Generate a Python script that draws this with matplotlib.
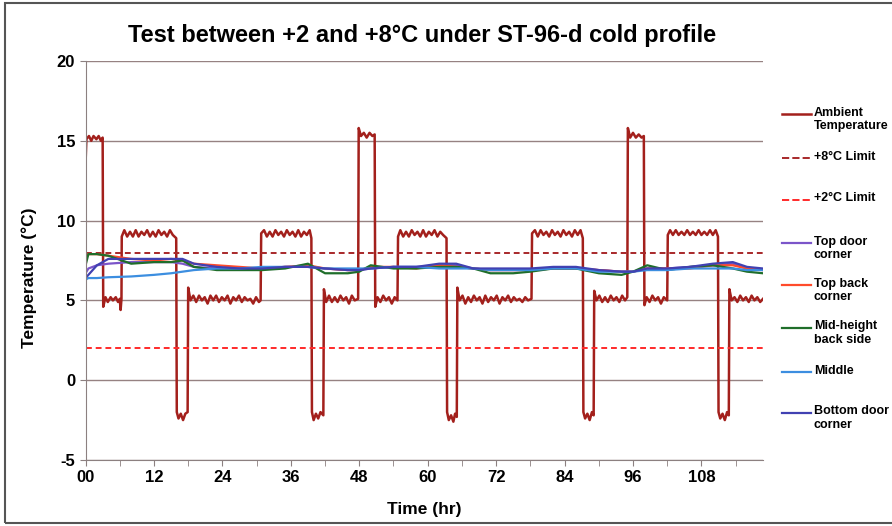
import numpy as np
import matplotlib.pyplot as plt
from matplotlib.lines import Line2D
from matplotlib.patches import Rectangle

plt.rcParams['font.family'] = ['Liberation Sans', 'DejaVu Sans']
plt.rcParams['font.weight'] = 'bold'
plt.rcParams['axes.unicode_minus'] = False

# ambient chamber temperature (hr, degC)
ambient = [
    (0.0, 13.6), (0.15, 15.1), (0.6, 15.3), (1.0, 15.0), (1.4, 15.3), (1.9, 15.1), (2.3, 15.3), (2.7, 15.0), (3.0, 15.2),
    (3.1, 4.6), (3.5, 5.2), (3.9, 4.9), (4.4, 5.2), (4.8, 5.0), (5.3, 5.2), (5.7, 4.9), (6.0, 5.1), (6.15, 4.4), (6.3, 5.1),
    (6.35, 9.0), (6.8, 9.4), (7.3, 9.0), (7.8, 9.3), (8.3, 9.0), (8.8, 9.4), (9.3, 9.0), (9.8, 9.3), (10.3, 9.1), (10.8, 9.4),
    (11.3, 9.0), (11.8, 9.3), (12.3, 9.0), (12.8, 9.4), (13.3, 9.1), (13.8, 9.3), (14.3, 9.0), (14.8, 9.4), (15.3, 9.1), (15.9, 8.9),
    (16.0, -2.0), (16.3, -2.4), (16.7, -2.1), (17.1, -2.5), (17.5, -2.1), (17.9, -2.0),
    (18.0, 5.8), (18.4, 5.0), (18.9, 5.3), (19.4, 4.9), (19.9, 5.3), (20.4, 5.0), (20.9, 5.2), (21.4, 4.8), (21.9, 5.3), (22.4, 5.0),
    (22.9, 5.3), (23.4, 4.9), (23.9, 5.2), (24.4, 5.0), (24.9, 5.3), (25.4, 4.8), (25.9, 5.2), (26.4, 5.0), (26.9, 5.3), (27.4, 4.9),
    (27.9, 5.2), (28.4, 5.0), (28.9, 5.1), (29.4, 4.8), (29.9, 5.2), (30.4, 4.9), (30.7, 5.0),
    (30.8, 9.2), (31.3, 9.4), (31.8, 9.0), (32.3, 9.3), (32.8, 9.0), (33.3, 9.4), (33.8, 9.1), (34.3, 9.3), (34.8, 9.0), (35.3, 9.4),
    (35.8, 9.1), (36.3, 9.3), (36.8, 9.0), (37.3, 9.4), (37.8, 9.0), (38.3, 9.3), (38.8, 9.1), (39.3, 9.4), (39.6, 8.9),
    (39.7, -2.0), (40.0, -2.5), (40.4, -2.1), (40.8, -2.4), (41.2, -2.0), (41.7, -2.2),
    (41.8, 5.7), (42.2, 4.9), (42.7, 5.3), (43.2, 4.9), (43.7, 5.2), (44.2, 4.9), (44.7, 5.3), (45.2, 5.0), (45.7, 5.2), (46.2, 4.8),
    (46.7, 5.3), (47.2, 5.0), (47.8, 5.1),
    (47.9, 15.8), (48.3, 15.3), (48.8, 15.5), (49.3, 15.2), (49.8, 15.5), (50.3, 15.3), (50.7, 15.4),
    (50.8, 4.6), (51.2, 5.2), (51.7, 4.9), (52.2, 5.3), (52.7, 5.0), (53.2, 5.2), (53.7, 4.8), (54.2, 5.2), (54.7, 5.0),
    (54.8, 9.0), (55.2, 9.4), (55.7, 9.0), (56.2, 9.3), (56.7, 9.0), (57.2, 9.4), (57.7, 9.1), (58.2, 9.3), (58.7, 9.0), (59.2, 9.4),
    (59.7, 9.0), (60.2, 9.3), (60.7, 9.1), (61.2, 9.4), (61.7, 9.0), (62.2, 9.3), (62.7, 9.1), (63.3, 8.9),
    (63.4, -2.0), (63.7, -2.5), (64.1, -2.2), (64.5, -2.6), (64.8, -2.1), (65.1, -2.3),
    (65.2, 5.8), (65.6, 5.0), (66.1, 5.3), (66.6, 4.8), (67.1, 5.2), (67.6, 4.9), (68.1, 5.3), (68.6, 5.0), (69.1, 5.2), (69.6, 4.8),
    (70.1, 5.3), (70.6, 4.9), (71.1, 5.2), (71.6, 5.0), (72.1, 5.3), (72.6, 4.8), (73.1, 5.2), (73.6, 5.0), (74.1, 5.3), (74.6, 4.9),
    (75.1, 5.2), (75.6, 5.0), (76.1, 5.1), (76.6, 4.9), (77.1, 5.2), (77.6, 5.0), (78.2, 5.1),
    (78.3, 9.2), (78.8, 9.4), (79.3, 9.0), (79.8, 9.4), (80.3, 9.1), (80.8, 9.3), (81.3, 9.0), (81.8, 9.4), (82.3, 9.1), (82.8, 9.3),
    (83.3, 9.0), (83.8, 9.4), (84.3, 9.1), (84.8, 9.3), (85.3, 9.0), (85.8, 9.4), (86.3, 9.1), (86.8, 9.4), (87.2, 8.9),
    (87.3, -2.0), (87.6, -2.4), (88.0, -2.1), (88.4, -2.5), (88.8, -2.0), (89.1, -2.2),
    (89.2, 5.6), (89.6, 5.0), (90.1, 5.3), (90.6, 4.9), (91.1, 5.2), (91.6, 4.9), (92.1, 5.3), (92.6, 5.0), (93.1, 5.2), (93.6, 4.9),
    (94.1, 5.3), (94.6, 5.0), (95.0, 5.2),
    (95.1, 15.8), (95.5, 15.2), (96.0, 15.5), (96.5, 15.2), (97.0, 15.4), (97.5, 15.2), (97.9, 15.3),
    (98.0, 4.7), (98.4, 5.2), (98.9, 4.9), (99.4, 5.3), (99.9, 5.0), (100.4, 5.2), (100.9, 4.8), (101.4, 5.2), (102.0, 5.0),
    (102.1, 9.1), (102.5, 9.4), (103.0, 9.1), (103.5, 9.4), (104.0, 9.1), (104.5, 9.3), (105.0, 9.1), (105.5, 9.4), (106.0, 9.1),
    (106.5, 9.3), (107.0, 9.1), (107.5, 9.4), (108.0, 9.1), (108.5, 9.3), (109.0, 9.1), (109.5, 9.4), (110.0, 9.1), (110.5, 9.4), (110.9, 9.0),
    (111.0, -2.0), (111.3, -2.4), (111.7, -2.1), (112.1, -2.5), (112.5, -2.0), (112.8, -2.2),
    (112.9, 5.7), (113.3, 5.0), (113.8, 5.2), (114.3, 4.9), (114.8, 5.3), (115.3, 5.0), (115.8, 5.2), (116.3, 4.9), (116.8, 5.3),
    (117.3, 5.0), (117.8, 5.2), (118.3, 4.9), (118.8, 5.1),
]

# product sensors, read at these hours
sensor_hr = [0, 0.5, 2, 4, 8, 12, 15, 17, 19, 23, 27, 31, 35, 39, 42, 46, 48, 50, 54, 58,
             62, 65, 68, 71, 75, 78, 82, 86, 90, 94, 96, 98.5, 102, 106, 110, 113.5, 116, 118.8]
top_door = [6.7, 7.0, 7.2, 7.3, 7.4, 7.4, 7.4, 7.3, 7.1, 7.0, 7.0, 7.0, 7.1, 7.1, 7.0, 6.9, 6.9, 7.0, 7.1, 7.1,
            7.2, 7.2, 7.0, 6.9, 6.9, 6.9, 7.0, 7.0, 6.9, 6.8, 6.8, 7.0, 7.0, 7.1, 7.2, 7.3, 7.0, 6.9]
top_back = [7.8, 7.9, 7.9, 7.8, 7.6, 7.5, 7.6, 7.5, 7.3, 7.2, 7.1, 7.0, 7.1, 7.2, 7.0, 6.9, 6.9, 7.1, 7.1, 7.0,
            7.2, 7.1, 7.0, 6.9, 6.9, 6.9, 7.0, 7.0, 6.9, 6.8, 6.8, 7.0, 7.0, 7.0, 7.2, 7.2, 7.0, 6.9]
mid_back = [7.2, 7.9, 7.9, 7.8, 7.3, 7.4, 7.4, 7.5, 7.1, 6.9, 6.9, 6.9, 7.0, 7.3, 6.7, 6.7, 6.8, 7.2, 7.0, 7.0,
            7.1, 7.1, 7.0, 6.7, 6.7, 6.8, 7.0, 7.0, 6.7, 6.6, 6.8, 7.2, 6.9, 7.1, 7.2, 7.0, 6.8, 6.7]
middle = [6.3, 6.4, 6.4, 6.45, 6.5, 6.6, 6.7, 6.8, 6.9, 7.0, 7.0, 7.1, 7.1, 7.1, 7.0, 7.0, 7.0, 7.0, 7.1, 7.1,
          7.0, 7.0, 7.0, 6.9, 6.9, 6.9, 7.0, 7.0, 6.8, 6.8, 6.8, 6.9, 6.9, 7.0, 7.0, 7.0, 6.9, 6.9]
bottom_door = [6.4, 6.6, 7.2, 7.6, 7.6, 7.6, 7.6, 7.6, 7.3, 7.1, 7.0, 7.0, 7.1, 7.1, 7.0, 6.9, 6.9, 7.0, 7.1, 7.1,
               7.3, 7.3, 7.0, 7.0, 7.0, 7.0, 7.1, 7.1, 6.9, 6.8, 6.8, 7.0, 7.0, 7.1, 7.3, 7.4, 7.1, 7.0]

upper_limit = 8
lower_limit = 2

amb_t, amb_v = zip(*ambient)

fig = plt.figure(figsize=(8.92, 5.26), dpi=100)
ax = fig.add_axes([0.0959, 0.1255, 0.7595, 0.7585])

lines = []
lines.append(ax.plot(amb_t, amb_v, color="#A3201C", lw=1.8, label="Ambient\nTemperature")[0])
lines.append(ax.axhline(upper_limit, color="#A8282A", lw=1.4, ls=(0, (3, 2)), label="+8°C Limit"))
lines.append(ax.axhline(lower_limit, color="#FF2A2A", lw=1.4, ls=(0, (3, 2)), label="+2°C Limit"))
lines.append(ax.plot(sensor_hr, top_door, color="#7B55C9", lw=1.6, label="Top door\ncorner")[0])
lines.append(ax.plot(sensor_hr, top_back, color="#FF4B2B", lw=1.6, label="Top back\ncorner")[0])
lines.append(ax.plot(sensor_hr, mid_back, color="#1F6E2A", lw=1.6, label="Mid-height\nback side")[0])
lines.append(ax.plot(sensor_hr, middle, color="#3C8EE0", lw=1.6, label="Middle")[0])
lines.append(ax.plot(sensor_hr, bottom_door, color="#4141B2", lw=1.6, label="Bottom door\ncorner")[0])

ax.set_xlim(0, 118.8)
ax.set_ylim(-5, 20)
ax.set_yticks([-5, 0, 5, 10, 15, 20])
ax.set_xticks(np.arange(0, 109, 12))
ax.set_xticklabels(["00", "12", "24", "36", "48", "60", "72", "84", "96", "108"])
ax.set_xticks(np.arange(6, 118, 12), minor=True)
ax.grid(axis="y", color="#968282", lw=1.0)
ax.set_axisbelow(True)
for s in ["top", "right"]:
    ax.spines[s].set_visible(False)
for s in ["left", "bottom"]:
    ax.spines[s].set_color("#8C8080")
ax.tick_params(axis="both", which="both", direction="out", color="#8C8080", length=4, labelsize=12)
for lbl in ax.get_xticklabels() + ax.get_yticklabels():
    lbl.set_fontweight("bold")

ax.set_title("Test between +2 and +8°C under ST-96-d cold profile", fontsize=17, fontweight="bold", x=0.496, pad=14)
ax.set_xlabel("Time (hr)", fontsize=12.5, fontweight="bold", labelpad=12)
ax.set_ylabel("Temperature (°C)", fontsize=12.5, fontweight="bold")
ax.yaxis.set_label_coords(-0.072, 0.456)

# legend on the right, Excel style
leg_y = [114, 158, 200, 243, 285, 328, 372, 413]
W, H = 892, 526
for ln, y in zip(lines, leg_y):
    fig.add_artist(Line2D([782 / W, 811 / W], [1 - y / H, 1 - y / H], color=ln.get_color(),
                          lw=ln.get_linewidth(), ls=ln.get_linestyle()))
    fig.text(814 / W, 1 - (y - 7.5) / H, ln.get_label(), fontsize=9.0, fontweight="bold",
             va="top", ha="left", linespacing=1.15)

fig.add_artist(Rectangle((5 / W, 3 / H), 1.0, 1 - 6 / H, transform=fig.transFigure,
                         fill=False, ec="#555555", lw=1.5))

fig.savefig("out.png", dpi=100)
